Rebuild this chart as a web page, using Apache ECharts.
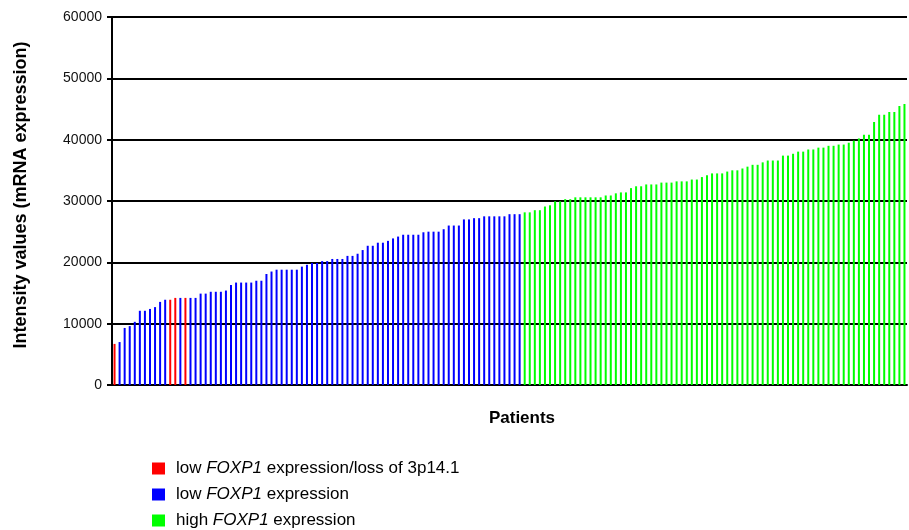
<!DOCTYPE html>
<html>
<head>
<meta charset="utf-8">
<script src="https://cdn.jsdelivr.net/npm/echarts@6/dist/echarts.min.js"></script>
<style>
html,body{margin:0;padding:0;background:#fff;}
#chart{width:909px;height:530px;}
</style>
</head>
<body>
<div id="chart"></div>
<script>
// Intensity values per patient, sorted ascending
const values = [
  6700, 7000, 9300, 9600, 10300, 12100, 12100, 12400, 12700, 13550,
  13900, 13900, 14200, 14200, 14200, 14200, 14200, 14900, 14900, 15200,
  15200, 15200, 15400, 16300, 16700, 16700, 16700, 16700, 17000, 17000,
  18100, 18500, 18800, 18800, 18800, 18800, 18800, 19300, 19600, 19900,
  19900, 20200, 20200, 20550, 20550, 20550, 21050, 21050, 21400, 22000,
  22700, 22700, 23200, 23200, 23500, 23900, 24200, 24500, 24500, 24500,
  24500, 24900, 25000, 25000, 25000, 25400, 26000, 26000, 26000, 27000,
  27000, 27200, 27200, 27500, 27500, 27500, 27500, 27500, 27850, 27850,
  27850, 28150, 28150, 28500, 28500, 29100, 29300, 29950, 29950, 30300,
  30300, 30600, 30600, 30600, 30600, 30600, 30600, 30900, 30900, 31250,
  31400, 31400, 32100, 32400, 32400, 32700, 32700, 32700, 33000, 33000,
  33000, 33200, 33200, 33200, 33500, 33500, 33900, 34200, 34500, 34500,
  34500, 34800, 35000, 35000, 35300, 35600, 35900, 35900, 36300, 36600,
  36600, 36600, 37400, 37400, 37700, 38050, 38050, 38400, 38400, 38700,
  38700, 39000, 39000, 39200, 39200, 39500, 39850, 40200, 40800, 40800,
  42900, 44050, 44050, 44500, 44500, 45500, 45800
];
// 1-based patient numbers with loss of 3p14.1
const lossPatients = [1, 12, 13, 15];
// first patient (1-based) of the high-expression group
const highFrom = 82;
const patients = values.map((v, i) => 'P' + (i + 1));
const yTicks = [0, 10000, 20000, 30000, 40000, 50000, 60000];

const seriesNames = [
  'low FOXP1 expression/loss of 3p14.1',
  'low FOXP1 expression',
  'high FOXP1 expression'
];
const seriesColors = ['#ff0000', '#0000ff', '#00ff00'];

function groupOf(i) {
  const n = i + 1;
  if (lossPatients.indexOf(n) >= 0) return 0;
  if (n >= highFrom) return 2;
  return 1;
}

const series = seriesNames.map((name, g) => ({
  name: name,
  type: 'bar',
  barWidth: 2,
  barGap: '-100%',
  itemStyle: { color: seriesColors[g] },
  data: values.map((v, i) => groupOf(i) === g ? v : '-'),
  animation: false
}));

const font = 'Liberation Sans, Arial, sans-serif';
const chart = echarts.init(document.getElementById('chart'));
chart.setOption({
  animation: false,
  grid: { left: 112, right: 2, top: 17, bottom: 145, containLabel: false },
  xAxis: {
    type: 'category',
    data: patients,
    axisLine: { lineStyle: { color: '#000', width: 2 } },
    axisTick: { show: false },
    axisLabel: { show: false }
  },
  yAxis: {
    type: 'value',
    min: yTicks[0],
    max: yTicks[yTicks.length - 1],
    interval: 10000,
    axisLine: { show: true, lineStyle: { color: '#000', width: 2 } },
    axisTick: { show: true, length: 5, lineStyle: { color: '#000', width: 2 } },
    axisLabel: { fontFamily: font, fontSize: 14, color: '#111', margin: 10,
      formatter: function (v) { return String(v); } },
    splitLine: { lineStyle: { color: '#000', width: 2 } }
  },
  legend: {
    orient: 'vertical',
    left: 152,
    top: 460,
    height: 100,
    padding: 0,
    itemWidth: 13,
    itemHeight: 12,
    itemGap: 9,
    icon: 'rect',
    data: seriesNames,
    formatter: function (name) { return name.replace('FOXP1', '{i|FOXP1}'); },
    textStyle: {
      fontFamily: font, fontSize: 17, color: '#000', padding: [0, 0, 0, 6],
      rich: { i: { fontFamily: font, fontSize: 17, fontStyle: 'italic', color: '#000' } }
    },
    selectedMode: false
  },
  graphic: [{
    type: 'text',
    x: 522,
    y: 418,
    style: {
      text: 'Patients',
      font: 'bold 17px Liberation Sans, Arial, sans-serif',
      fill: '#000',
      textAlign: 'center',
      textVerticalAlign: 'middle'
    }
  }, {
    type: 'text',
    x: 21,
    y: 195,
    rotation: Math.PI / 2,
    style: {
      text: 'Intensity values (mRNA expression)',
      font: 'bold 18px Liberation Sans, Arial, sans-serif',
      fill: '#000',
      textAlign: 'center',
      textVerticalAlign: 'middle'
    }
  }],
  series: series
});
</script>
</body>
</html>
